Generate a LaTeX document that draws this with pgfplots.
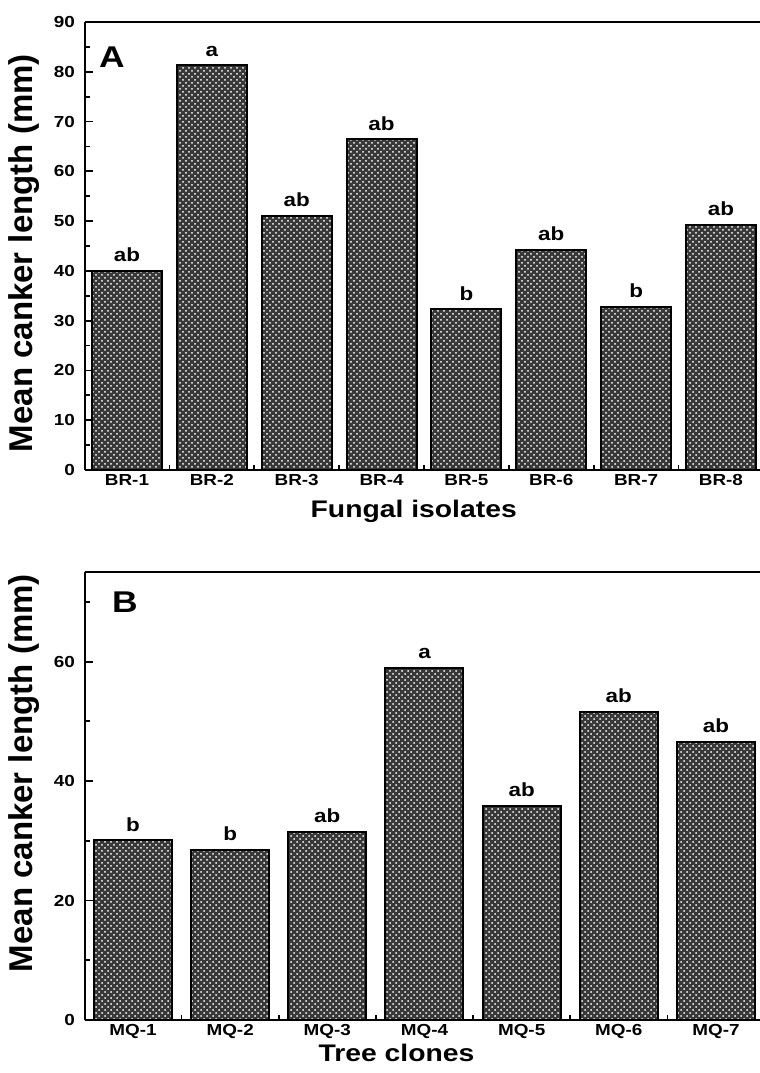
\documentclass[border=0pt]{standalone}
\usepackage{pgfplots}
\pgfplotsset{compat=1.18}
\usepackage{pgfplotstable}
\usepackage{fontspec}
\setmainfont{Liberation Sans}
\usetikzlibrary{patterns}
\newcommand{\wide}[1]{\scalebox{1.18}[1]{#1}}

\pgfplotstableread{
x y lab
1 40.0 ab
2 81.3 a
3 51.0 ab
4 66.4 ab
5 32.3 b
6 44.2 ab
7 32.8 b
8 49.2 ab
}\dataA
\pgfplotstableread{
x y lab
1 30.1 b
2 28.5 b
3 31.5 ab
4 59.0 a
5 35.8 ab
6 51.6 ab
7 46.6 ab
}\dataB

\pgfplotsset{
  panel/.style={
    scale only axis, width=337.5pt, height=224pt,
    axis x line=box, axis y line=left,
    axis line style={line width=1.2pt, -},
    xtick pos=left, ytick pos=left,
    tick align=inside,
    major tick length=4pt, minor tick length=2.5pt,
    every tick/.style={black, line width=0.9pt},
    major x tick style={draw=none},
    ymin=0,
    /pgf/number format/assume math mode=true,
    yticklabel={\wide{\pgfmathprintnumber{\tick}}},
    yticklabel style={font=\bfseries\fontsize{8}{9}\selectfont, xshift=-1.5pt},
    xticklabel style={font=\bfseries\fontsize{8}{9}\selectfont, inner sep=2pt},
    xlabel style={font=\bfseries\fontsize{12}{14}\selectfont, anchor=base},
    ylabel style={font=\bfseries\fontsize{16.5}{18}\selectfont, anchor=center},
    point meta=explicit symbolic,
    nodes near coords={\wide{\pgfplotspointmeta}},
    nodes near coords style={font=\bfseries\fontsize{9.5}{10}\selectfont, anchor=south, inner sep=0pt, yshift=4pt},
  },
  barsty/.style={ybar, bar shift=0pt, draw=black, line width=1pt,
    fill=black!78, postaction={pattern=crosshatch dots, pattern color=white}},
}

\begin{document}
\begin{tikzpicture}
\path[use as bounding box] (-42.5pt,-301.5pt) rectangle (337.5pt,235pt);

\begin{axis}[panel, at={(0,0)}, anchor=south west,
  xmin=0.505, xmax=8.46, ymax=90,
  xtick={1,...,8},
  xticklabels={\wide{BR-1},\wide{BR-2},\wide{BR-3},\wide{BR-4},\wide{BR-5},\wide{BR-6},\wide{BR-7},\wide{BR-8}},
  minor xtick={1.5,2.5,...,7.5},
  ytick={0,10,...,90}, minor ytick={5,15,...,85},
  xlabel={\wide{Fungal isolates}},
  xlabel style={at={(axis description cs:0.487,-0.107)}},
  ylabel={Mean canker length (mm)},
  ylabel style={at={(axis description cs:-0.0904,0.484)}},
]
\addplot[barsty, bar width=35pt] table[x=x, y=y, meta=lab] {\dataA};
\node[font=\bfseries\fontsize{15}{15}\selectfont] at (axis description cs:0.04,0.921) {\wide{A}};
\end{axis}

\begin{axis}[panel, at={(0,-275pt)}, anchor=south west,
  xmin=0.506, xmax=7.453, ymax=75,
  xtick={1,...,7},
  xticklabels={\wide{MQ-1},\wide{MQ-2},\wide{MQ-3},\wide{MQ-4},\wide{MQ-5},\wide{MQ-6},\wide{MQ-7}},
  minor xtick={1.5,2.5,...,6.5},
  ytick={0,20,40,60}, minor ytick={10,30,50,70},
  xlabel={\wide{Tree clones}},
  xlabel style={at={(axis description cs:0.4615,-0.092)}},
  ylabel={Mean canker length (mm)},
  ylabel style={at={(axis description cs:-0.0904,0.551)}},
]
\addplot[barsty, bar width=39pt] table[x=x, y=y, meta=lab] {\dataB};
\node[font=\bfseries\fontsize{15}{15}\selectfont] at (axis description cs:0.0593,0.932) {\wide{B}};
\end{axis}
\end{tikzpicture}
\end{document}
